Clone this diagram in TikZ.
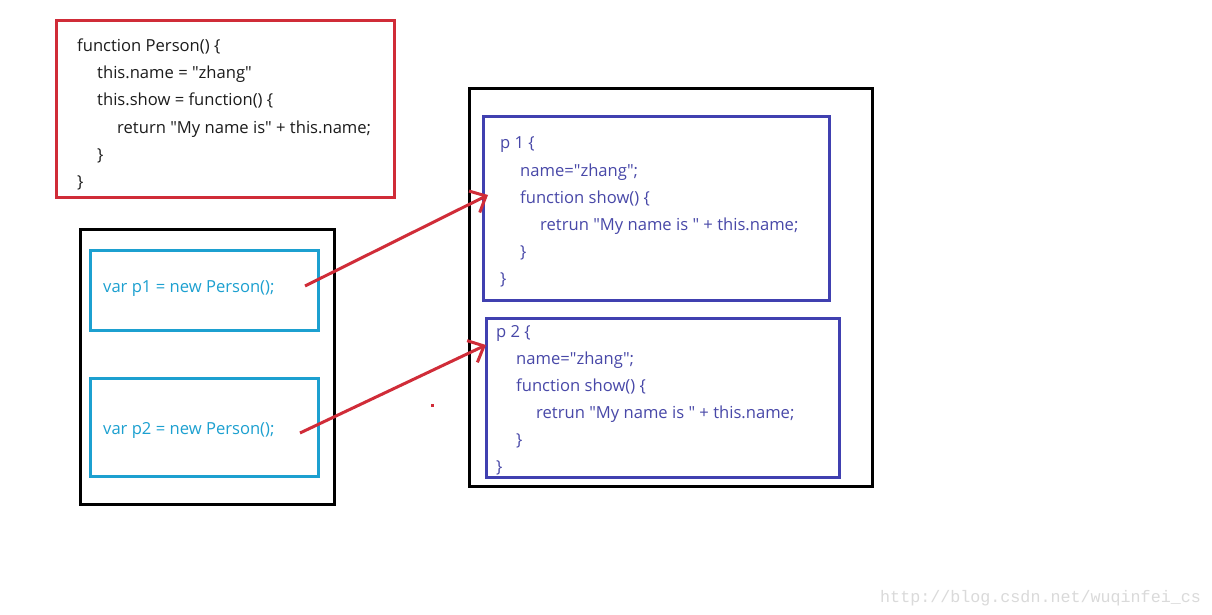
\documentclass[tikz,border=0pt]{standalone}
\usepackage{fontspec}
\newfontfamily\codefont{Open Sans}
\newfontfamily\wmfont{Liberation Mono}
\usetikzlibrary{arrows.meta}
\definecolor{boxred}{RGB}{208,44,56}
\definecolor{boxcyan}{RGB}{28,160,208}
\definecolor{boxblue}{RGB}{64,64,176}
\definecolor{txtblue}{RGB}{72,72,168}
\definecolor{txtdark}{RGB}{28,28,28}
\definecolor{wmgray}{RGB}{218,218,218}
\tikzset{
  frame/.style={draw, line width=3pt},
  codeline/.style={anchor=base west, inner sep=0pt, font=\codefont\fontsize{16.6}{18}\selectfont},
  redcode/.style={codeline, text=txtdark},
  bluecode/.style={codeline, text=txtblue},
  cyancode/.style={codeline, text=boxcyan},
  ptr/.style={draw=boxred, line width=3pt, -{Straight Barb[length=13pt,width=24pt,line width=3pt]}},
}
\begin{document}
\begin{tikzpicture}[x=1pt,y=-1pt]
\useasboundingbox (0,0) rectangle (1212,615);
\fill[white] (0,0) rectangle (1212,615);
% red constructor box
\draw[frame, draw=boxred] (56,21) rectangle (394,197);
\node[redcode] (r1) at (77,52)  {function Person() \{};
\node[redcode] (r2) at (97,79)  {this.name = "zhang"};
\node[redcode] (r3) at (97,106) {this.show = function() \{};
\node[redcode] (r4) at (117,133){return "My name is" + this.name;};
\node[redcode] (r5) at (97,160) {\}};
\node[redcode] (r6) at (77,187) {\}};
% left black box with var boxes
\draw[frame, draw=black] (80,229) rectangle (334,504);
\draw[frame, draw=boxcyan] (90,250) rectangle (318,330);
\draw[frame, draw=boxcyan] (90,378) rectangle (318,476);
\node[cyancode] (v1) at (103,292) {var p1 = new Person();};
\node[cyancode] (v2) at (103,434) {var p2 = new Person();};
% right black box with objects
\draw[frame, draw=black] (469,89) rectangle (872,486);
\draw[frame, draw=boxblue] (483,117) rectangle (829,300);
\draw[frame, draw=boxblue] (486,318) rectangle (839,477);
\node[bluecode] (a1) at (500,149) {p 1 \{};
\node[bluecode] (a2) at (520,176) {name="zhang";};
\node[bluecode] (a3) at (520,203) {function show() \{};
\node[bluecode] (a4) at (540,230) {retrun "My name is " + this.name;};
\node[bluecode] (a5) at (520,257) {\}};
\node[bluecode] (a6) at (500,284) {\}};
\node[bluecode] (b1) at (496,337) {p 2 \{};
\node[bluecode] (b2) at (516,364) {name="zhang";};
\node[bluecode] (b3) at (516,391) {function show() \{};
\node[bluecode] (b4) at (536,418) {retrun "My name is " + this.name;};
\node[bluecode] (b5) at (516,445) {\}};
\node[bluecode] (b6) at (496,472) {\}};
% pointers
\coordinate (s1) at (305,286);
\coordinate (e1) at (488,195);
\coordinate (s2) at (300,433);
\coordinate (e2) at (486,345);
\draw[ptr] (s1) -- (e1);
\draw[ptr] (s2) -- (e2);
\fill[boxred] (430.5,403.5) rectangle (433.5,406.5);
% watermark
\node[anchor=base west, inner sep=0pt, text=wmgray, font=\wmfont\fontsize{16.7}{18}\selectfont] (wm) at (880,602) {http://blog.csdn.net/wuqinfei\_cs};
\end{tikzpicture}
\end{document}
